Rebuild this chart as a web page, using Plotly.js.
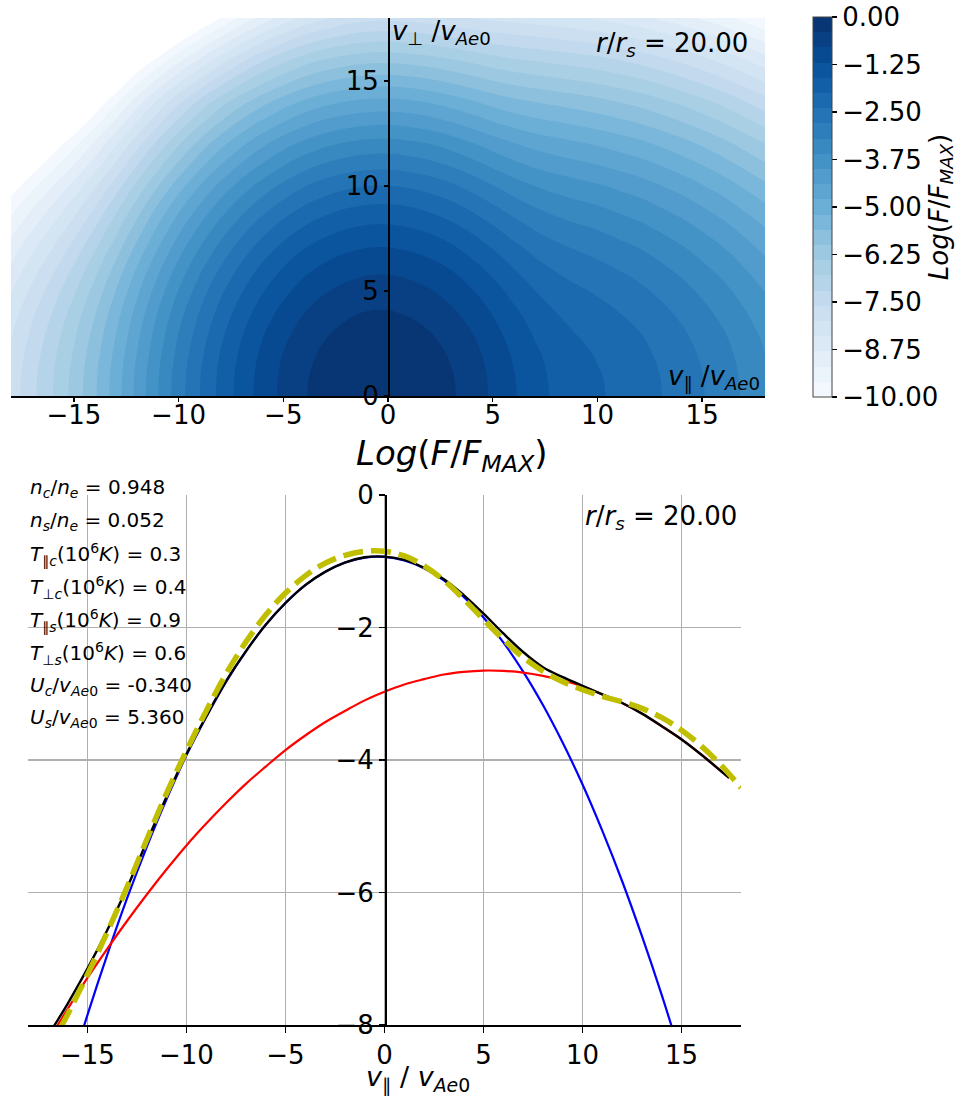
<!DOCTYPE html>
<html><head><meta charset="utf-8">
<script src="https://cdn.plot.ly/plotly-3.0.1.min.js"></script>
<style>html,body{margin:0;padding:0;background:#fff;}</style>
</head><body>
<div id="chart" style="width:970px;height:1099px;"></div>
<script>
// ---------- TOP PANEL: Log(F/F_MAX), one column per v_par value
const vParGrid  = [-18,-17,-16,-15,-14,-13,-12,-11,-10,-9,-8,-7,-6,-5,-4,-3,-2,-1,0,1,2,3,4,5,6,7,8,9,10,11,12,14,16,18];
const vPerpGrid = [0,1,2,3,4,5,6,7,8,9,10,12,14,16,18];
const logFByVpar = [
  [-7.83,-7.85,-7.93,-8.05,-8.21,-8.43,-8.69,-9.01,-9.37,-9.77,-10.23,-11.29,-12.53,-13.97,-15.61], // -18
  [-7.31,-7.33,-7.41,-7.53,-7.69,-7.91,-8.17,-8.49,-8.85,-9.25,-9.71,-10.77,-12.01,-13.45,-15.09], // -17
  [-6.80,-6.82,-6.90,-7.02,-7.18,-7.40,-7.66,-7.98,-8.34,-8.74,-9.20,-10.26,-11.50,-12.94,-14.58], // -16
  [-6.26,-6.28,-6.36,-6.48,-6.64,-6.86,-7.12,-7.44,-7.80,-8.20,-8.66,-9.72,-10.96,-12.40,-14.04],  // -15
  [-5.66,-5.68,-5.76,-5.88,-6.04,-6.26,-6.52,-6.84,-7.20,-7.60,-8.06,-9.12,-10.36,-11.80,-13.44],  // -14
  [-5.00,-5.02,-5.10,-5.22,-5.38,-5.60,-5.86,-6.18,-6.54,-6.94,-7.40,-8.46,-9.70,-11.14,-12.78],   // -13
  [-4.30,-4.32,-4.40,-4.52,-4.68,-4.90,-5.16,-5.48,-5.84,-6.24,-6.70,-7.76,-9.00,-10.44,-12.08],   // -12
  [-3.62,-3.64,-3.72,-3.84,-4.00,-4.22,-4.48,-4.80,-5.16,-5.56,-6.02,-7.08,-8.32,-9.90,-11.50],    // -11
  [-2.98,-3.00,-3.08,-3.20,-3.36,-3.58,-3.84,-4.16,-4.52,-4.92,-5.38,-6.44,-7.68,-9.30,-11.00],    // -10
  [-2.41,-2.43,-2.51,-2.63,-2.79,-3.01,-3.27,-3.58,-3.94,-4.35,-4.80,-5.86,-7.10,-8.75,-10.50],    // -9
  [-1.88,-1.91,-1.98,-2.10,-2.27,-2.48,-2.75,-3.06,-3.42,-3.82,-4.28,-5.33,-6.58,-8.20,-10.00],    // -8
  [-1.43,-1.45,-1.52,-1.64,-1.81,-2.03,-2.29,-2.60,-2.96,-3.37,-3.82,-4.88,-6.12,-7.70,-9.50],     // -7
  [-1.03,-1.05,-1.12,-1.24,-1.41,-1.63,-1.89,-2.20,-2.56,-2.97,-3.43,-4.48,-5.73,-7.25,-9.05],     // -6
  [-0.70,-0.72,-0.79,-0.91,-1.08,-1.30,-1.56,-1.87,-2.23,-2.64,-3.10,-4.15,-5.40,-6.90,-8.65],     // -5
  [-0.43,-0.45,-0.52,-0.64,-0.81,-1.03,-1.29,-1.60,-1.96,-2.37,-2.82,-3.88,-5.12,-6.58,-8.30],     // -4
  [-0.23,-0.25,-0.32,-0.44,-0.61,-0.83,-1.09,-1.40,-1.76,-2.17,-2.62,-3.68,-4.92,-6.36,-8.05],     // -3
  [-0.09,-0.11,-0.18,-0.30,-0.47,-0.69,-0.95,-1.26,-1.62,-2.03,-2.48,-3.54,-4.78,-6.21,-7.85],     // -2
  [-0.01,-0.03,-0.10,-0.22,-0.39,-0.61,-0.87,-1.18,-1.54,-1.95,-2.40,-3.46,-4.70,-6.12,-7.73],     // -1
  [-0.01,-0.02,-0.09,-0.21,-0.38,-0.60,-0.86,-1.17,-1.53,-1.94,-2.39,-3.44,-4.68,-6.10,-7.70],     // 0
  [-0.05,-0.08,-0.15,-0.27,-0.44,-0.65,-0.92,-1.23,-1.59,-1.99,-2.45,-3.50,-4.73,-6.15,-7.74],     // 1
  [-0.17,-0.20,-0.27,-0.39,-0.55,-0.77,-1.03,-1.34,-1.70,-2.11,-2.56,-3.60,-4.83,-6.24,-7.80],     // 2
  [-0.34,-0.37,-0.44,-0.56,-0.73,-0.94,-1.20,-1.51,-1.87,-2.27,-2.72,-3.76,-4.98,-6.36,-7.90],     // 3
  [-0.58,-0.60,-0.67,-0.79,-0.96,-1.17,-1.43,-1.74,-2.09,-2.49,-2.94,-3.96,-5.15,-6.50,-8.00],     // 4
  [-0.86,-0.88,-0.95,-1.07,-1.23,-1.44,-1.70,-2.00,-2.35,-2.74,-3.18,-4.18,-5.34,-6.64,-8.09],     // 5
  [-1.16,-1.18,-1.25,-1.36,-1.52,-1.73,-1.98,-2.27,-2.61,-2.99,-3.41,-4.37,-5.49,-6.75,-8.15],     // 6
  [-1.44,-1.47,-1.53,-1.64,-1.79,-1.99,-2.23,-2.51,-2.84,-3.20,-3.60,-4.53,-5.60,-6.83,-8.21],     // 7
  [-1.67,-1.69,-1.75,-1.85,-2.00,-2.19,-2.42,-2.69,-3.00,-3.35,-3.74,-4.64,-5.69,-6.91,-8.27],     // 8
  [-1.82,-1.84,-1.90,-2.01,-2.15,-2.33,-2.56,-2.82,-3.12,-3.47,-3.85,-4.74,-5.78,-6.99,-8.35],     // 9
  [-1.95,-1.97,-2.03,-2.13,-2.27,-2.45,-2.67,-2.93,-3.23,-3.57,-3.95,-4.84,-5.88,-7.08,-8.44],     // 10
  [-2.08,-2.10,-2.16,-2.26,-2.40,-2.58,-2.80,-3.06,-3.36,-3.70,-4.08,-4.96,-6.00,-7.20,-8.56],     // 11
  [-2.21,-2.23,-2.29,-2.39,-2.53,-2.71,-2.93,-3.19,-3.49,-3.83,-4.21,-5.09,-6.13,-7.33,-8.69],     // 12
  [-2.56,-2.58,-2.64,-2.74,-2.88,-3.06,-3.28,-3.54,-3.84,-4.18,-4.56,-5.44,-6.48,-7.68,-9.04],     // 14
  [-2.99,-3.01,-3.07,-3.17,-3.31,-3.49,-3.71,-3.97,-4.27,-4.61,-4.99,-5.87,-6.91,-8.11,-9.47],     // 16
  [-3.51,-3.53,-3.59,-3.69,-3.83,-4.01,-4.23,-4.49,-4.79,-5.13,-5.51,-6.39,-7.43,-8.63,-9.99]      // 18
];

const contourStart = -10, contourEnd = 0, contourStep = 0.4;
const cbTickVals = [0,-1.25,-2.5,-3.75,-5,-6.25,-7.5,-8.75,-10];
const topTickX = [-15,-10,-5,0,5,10,15];
const topTickY = [0,5,10,15];

// ---------- BOTTOM PANEL: cuts along v_par (log10 F)
const vPar1D    = [-18,-17,-16,-15,-14,-13,-12,-11,-10,-9,-8,-7,-6,-5,-4,-3,-2,-1,0,1,2,3,4,5,6,7,8,9,10,11,12,13,14,15,16,17,17.4];
const coreLog   = [-10.97,-9.87,-8.83,-7.85,-6.94,-6.09,-5.31,-4.59,-3.93,-3.35,-2.82,-2.36,-1.96,-1.63,-1.36,-1.16,-1.02,-0.944,-0.934,-0.988,-1.106,-1.29,-1.537,-1.85,-2.224,-2.665,-3.17,-3.74,-4.37,-5.07,-5.83,-6.66,-7.55,-8.51,-9.53,-10.61,-11.06];
const strahlLog = [-8.76,-8.25,-7.76,-7.29,-6.85,-6.43,-6.03,-5.65,-5.29,-4.96,-4.65,-4.36,-4.10,-3.85,-3.63,-3.43,-3.26,-3.10,-2.97,-2.86,-2.78,-2.71,-2.67,-2.65,-2.655,-2.68,-2.73,-2.80,-2.89,-3.01,-3.14,-3.30,-3.49,-3.69,-3.92,-4.17,-4.27];
const totalLog  = [-8.70,-8.17,-7.68,-7.15,-6.57,-5.93,-5.23,-4.55,-3.91,-3.34,-2.81,-2.36,-1.96,-1.63,-1.36,-1.16,-1.02,-0.94,-0.93,-0.98,-1.10,-1.27,-1.51,-1.79,-2.09,-2.37,-2.60,-2.75,-2.88,-3.01,-3.14,-3.30,-3.49,-3.69,-3.92,-4.17,-4.27];
const vParFit   = [-17,-16,-15,-14,-13,-12,-11,-10,-9,-8,-7,-6,-5,-4,-3,-2,-1,0,1,2,3,4,5,6,7,8,9,10,11,12,13,14,15,16,17,18];
const fitLog    = [-8.40,-7.84,-7.24,-6.60,-5.92,-5.20,-4.50,-3.86,-3.26,-2.70,-2.22,-1.81,-1.48,-1.22,-1.03,-0.91,-0.85,-0.85,-0.92,-1.07,-1.29,-1.57,-1.88,-2.18,-2.45,-2.66,-2.82,-2.94,-3.04,-3.12,-3.22,-3.36,-3.55,-3.79,-4.08,-4.42];
const botTickX = [-15,-10,-5,0,5,10,15];
const botTickY = [-8,-6,-4,-2,0];

const paramNames  = ['<i>n<sub>c</sub></i>/<i>n<sub>e</sub></i>','<i>n<sub>s</sub></i>/<i>n<sub>e</sub></i>',
  '<i>T</i><sub>∥<i>c</i></sub>(10<sup>6</sup><i>K</i>)','<i>T</i><sub>⊥<i>c</i></sub>(10<sup>6</sup><i>K</i>)',
  '<i>T</i><sub>∥<i>s</i></sub>(10<sup>6</sup><i>K</i>)','<i>T</i><sub>⊥<i>s</i></sub>(10<sup>6</sup><i>K</i>)',
  '<i>U<sub>c</sub></i>/<i>v</i><sub><i>Ae</i>0</sub>','<i>U<sub>s</sub></i>/<i>v</i><sub><i>Ae</i>0</sub>'];
const paramValues = ['0.948','0.052','0.3','0.4','0.9','0.6','-0.340','5.360'];
const radiusValue = '20.00';

// ---------- styling helpers
const FONT = 'DejaVu Sans';
const W = 970, H = 1099;
const px = x => x / W;
const py = y => 1 - y / H;

const bluesAnchors = ['#f7fbff','#deebf7','#c6dbef','#9ecae1','#6baed6','#4292c6','#2171b5','#08519c','#08306b'];
function hexRgb(h){ return [1,3,5].map(i => parseInt(h.substr(i,2),16)); }
function blues(t){
  const n = bluesAnchors.length - 1;
  const p = Math.min(Math.max(t,0),1) * n;
  const i = Math.min(Math.floor(p), n - 1);
  const f = p - i;
  const a = hexRgb(bluesAnchors[i]), b = hexRgb(bluesAnchors[i+1]);
  return 'rgb(' + [0,1,2].map(k => Math.round(a[k] + (b[k]-a[k]) * f)).join(',') + ')';
}
const nBands = Math.round((contourEnd - contourStart) / contourStep);
const contourScale = [[0, '#ffffff']];
for (let k = 0; k < nBands; k++) contourScale.push([(k + 1) / (nBands + 1), blues((k + 0.5) / nBands)]);
contourScale.push([1, blues(1)]);
const bandScale = [];
for (let k = 0; k < nBands; k++) {
  const c = blues((k + 0.5) / nBands);
  bandScale.push([k / nBands, c]); bandScale.push([(k + 1) / nBands, c]);
}
const fmtNeg = v => (v < 0 ? '\u2212' : '') + Math.abs(v).toFixed(2);

const traces = [
  { type:'contour', x:vParGrid, y:vPerpGrid, z:logFByVpar, transpose:true, xaxis:'x', yaxis:'y',
    autocontour:false,
    contours:{start:contourStart, end:contourEnd, size:contourStep, coloring:'fill', showlines:false},
    line:{width:0, smoothing:1.2}, colorscale:contourScale, showscale:false, hoverinfo:'skip' },
  { type:'heatmap', z:[[contourStart, contourEnd]], xaxis:'x3', yaxis:'y3', opacity:0,
    zmin:contourStart, zmax:contourEnd, colorscale:bandScale, hoverinfo:'skip', showscale:true,
    colorbar:{ x:px(813), xanchor:'left', xpad:0, ypad:0, thickness:19, thicknessmode:'pixels',
      y:py(207), yanchor:'middle', len:380/H, lenmode:'fraction',
      outlinewidth:1, outlinecolor:'#444', ticks:'outside', ticklen:5, tickwidth:1.2, tickcolor:'#000',
      tickvals:cbTickVals, ticktext:cbTickVals.map(fmtNeg),
      tickfont:{family:FONT, size:26, color:'#000'},
      title:{text:'<i>Log</i>(<i>F</i>/<i>F</i><sub><i>MAX</i></sub>)', side:'right', font:{family:FONT, size:26, color:'#000'}} } },
  { type:'scatter', mode:'lines', x:vPar1D, y:coreLog, xaxis:'x2', yaxis:'y2',
    line:{color:'#0000ff', width:2.2, shape:'spline'}, hoverinfo:'skip' },
  { type:'scatter', mode:'lines', x:vPar1D, y:strahlLog, xaxis:'x2', yaxis:'y2',
    line:{color:'#ff0000', width:2.2, shape:'spline'}, hoverinfo:'skip' },
  { type:'scatter', mode:'lines', x:vPar1D, y:totalLog, xaxis:'x2', yaxis:'y2',
    line:{color:'#000000', width:2.4, shape:'spline'}, hoverinfo:'skip' },
  { type:'scatter', mode:'lines', x:vParFit, y:fitLog, xaxis:'x2', yaxis:'y2',
    line:{color:'#bfbf00', width:5.5, shape:'spline', dash:'20px,8px'}, hoverinfo:'skip' }
];

const tickFont = {family:FONT, size:26, color:'#000'};
const annotations = [
  { xref:'paper', yref:'paper', x:px(390), y:py(32), xanchor:'left', yanchor:'middle', showarrow:false,
    text:'<i>v</i><sub>⊥</sub> /<i>v</i><sub><i>Ae</i>0</sub>', font:tickFont },
  { xref:'paper', yref:'paper', x:px(750), y:py(45), xanchor:'right', yanchor:'middle', showarrow:false,
    text:'<i>r</i>/<i>r<sub>s</sub></i> = ' + radiusValue, font:tickFont },
  { xref:'paper', yref:'paper', x:px(762), y:py(378), xanchor:'right', yanchor:'middle', showarrow:false,
    text:'<i>v</i><sub>∥</sub> /<i>v</i><sub><i>Ae</i>0</sub>', font:tickFont },
  { xref:'paper', yref:'paper', x:px(739), y:py(517), xanchor:'right', yanchor:'middle', showarrow:false,
    text:'<i>r</i>/<i>r<sub>s</sub></i> = ' + radiusValue, font:tickFont },
  // axis titles (placed as in the reference, not centred on the axes)
  { xref:'paper', yref:'paper', x:px(452), y:py(455), xanchor:'center', yanchor:'middle', showarrow:false,
    text:'<i>Log</i>(<i>F</i>/<i>F</i><sub><i>MAX</i></sub>)', font:{family:FONT, size:34, color:'#000'} },
  { xref:'paper', yref:'paper', x:px(364), y:py(1079), xanchor:'left', yanchor:'middle', showarrow:false,
    text:'<i>v</i><sub>∥</sub> / <i>v</i><sub><i>Ae</i>0</sub>', font:{family:FONT, size:27, color:'#000'} }
];
const paramY = [488, 521, 554, 587, 620, 653, 686, 718];
paramNames.forEach((n, i) => annotations.push({
  xref:'paper', yref:'paper', x:px(28), y:py(paramY[i]), xanchor:'left', yanchor:'middle', showarrow:false,
  text: n + ' = ' + paramValues[i], font:{family:FONT, size:20, color:'#000'} }));

const layout = {
  width:W, height:H, margin:{l:0, r:0, t:0, b:0}, paper_bgcolor:'#fff', plot_bgcolor:'#fff',
  showlegend:false, font:{family:FONT, color:'#000'},
  xaxis:{ domain:[px(11), px(765)], range:[-18,18], anchor:'y', showline:true, linecolor:'#000', linewidth:1.8,
    ticks:'outside', ticklen:4, tickwidth:1.5, tickcolor:'#000', tickvals:topTickX, tickfont:tickFont,
    ticklabelstandoff:-9, showgrid:false, zeroline:false },
  yaxis:{ domain:[py(396), py(18)], range:[0,18], anchor:'free', position:px(388), showline:true, linecolor:'#000', linewidth:1.8,
    ticks:'outside', ticklen:4, tickwidth:1.5, tickcolor:'#000', tickvals:topTickY, tickfont:tickFont,
    showgrid:false, zeroline:false },
  xaxis2:{ domain:[px(28), px(741)], range:[-18,18], anchor:'y2', showline:true, linecolor:'#000', linewidth:1.5,
    ticks:'outside', ticklen:6, tickwidth:1.3, tickcolor:'#000', tickvals:botTickX, tickfont:tickFont,
    showgrid:true, gridcolor:'#b0b0b0', gridwidth:1.5, zeroline:false },
  yaxis2:{ domain:[py(1025), py(495)], range:[-8,0], anchor:'free', position:px(385), showline:true, linecolor:'#000', linewidth:1.5,
    ticks:'outside', ticklen:6, tickwidth:1.3, tickcolor:'#000', tickvals:botTickY, tickfont:tickFont,
    showgrid:true, gridcolor:'#b0b0b0', gridwidth:1.5, zeroline:false },
  xaxis3:{ domain:[0.995,1], anchor:'y3', visible:false },
  yaxis3:{ domain:[0,0.005], anchor:'x3', visible:false },
  annotations:annotations
};

Plotly.newPlot('chart', traces, layout, {displayModeBar:false, staticPlot:true});
</script>
</body></html>
